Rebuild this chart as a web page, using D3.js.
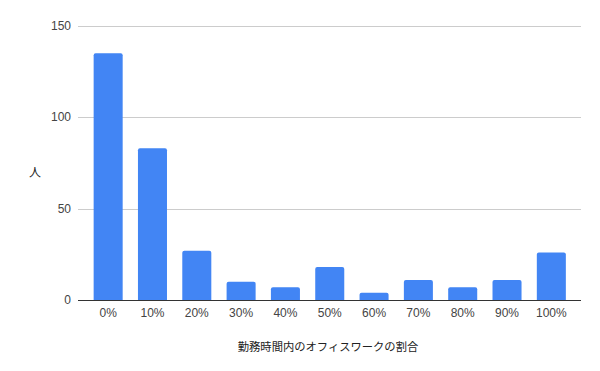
<!DOCTYPE html>
<html>
<head>
<meta charset="utf-8">
<script src="https://cdn.jsdelivr.net/npm/d3@7.9.0/dist/d3.min.js"></script>
<style>
  body { margin: 0; background: #fff; }
  text { font-family: Arial, "Liberation Sans", sans-serif; }
</style>
</head>
<body>
<svg id="chart" width="600" height="371"></svg>
<script>
const categories = ['0%', '10%', '20%', '30%', '40%', '50%', '60%', '70%', '80%', '90%', '100%'];
const counts = [135, 83, 27, 10, 7, 18, 4, 11, 7, 11, 26];
const yTicks = [0, 50, 100, 150];

const svg = d3.select('#chart');
const plotLeft = 78, plotRight = 581, plotTop = 25.7, plotBottom = 300;

const x = d3.scaleBand()
  .domain(categories)
  .range([86, 573.5])
  .paddingInner(0.345)
  .paddingOuter(0.1725);

const y = d3.scaleLinear().domain([0, 150]).range([plotBottom, plotTop]);

// gridlines
svg.append('g')
  .selectAll('line')
  .data(yTicks.filter(d => d > 0))
  .join('line')
  .attr('x1', plotLeft).attr('x2', plotRight)
  .attr('y1', d => Math.round(y(d)) + 0.5).attr('y2', d => Math.round(y(d)) + 0.5)
  .attr('stroke', '#cccccc');

// y tick labels
svg.append('g')
  .selectAll('text')
  .data(yTicks)
  .join('text')
  .attr('x', 71)
  .attr('y', d => y(d) + 4)
  .attr('text-anchor', 'end')
  .attr('font-size', 12)
  .attr('fill', '#444')
  .text(d => d);

// bars with slightly rounded tops
const r = 2;
svg.append('g')
  .selectAll('path')
  .data(counts)
  .join('path')
  .attr('fill', '#4285f4')
  .attr('d', (d, i) => {
    const x0 = x(categories[i]), w = x.bandwidth();
    const y0 = y(d), h = plotBottom - y0;
    const rr = Math.min(r, h / 2);
    return `M${x0},${plotBottom}V${y0 + rr}Q${x0},${y0} ${x0 + rr},${y0}H${x0 + w - rr}Q${x0 + w},${y0} ${x0 + w},${y0 + rr}V${plotBottom}Z`;
  });

// baseline
svg.append('line')
  .attr('x1', plotLeft).attr('x2', plotRight)
  .attr('y1', plotBottom + 0.5).attr('y2', plotBottom + 0.5)
  .attr('stroke', '#333333');

// x tick labels
svg.append('g')
  .selectAll('text')
  .data(categories)
  .join('text')
  .attr('x', d => x(d) + x.bandwidth() / 2)
  .attr('y', 317)
  .attr('text-anchor', 'middle')
  .attr('font-size', 12)
  .attr('fill', '#444')
  .text(d => d);

// axis titles
svg.append('text')
  .attr('x', 328)
  .attr('y', 351)
  .attr('text-anchor', 'middle')
  .attr('font-size', 11.3)
  .attr('fill', '#222')
  .style('font-family', '"Noto Sans CJK JP", sans-serif')
  .text('勤務時間内のオフィスワークの割合');

svg.append('text')
  .attr('x', 35)
  .attr('y', 177)
  .attr('text-anchor', 'middle')
  .attr('font-size', 12)
  .attr('fill', '#222')
  .style('font-family', '"Noto Sans CJK JP", sans-serif')
  .text('人');
</script>
</body>
</html>
